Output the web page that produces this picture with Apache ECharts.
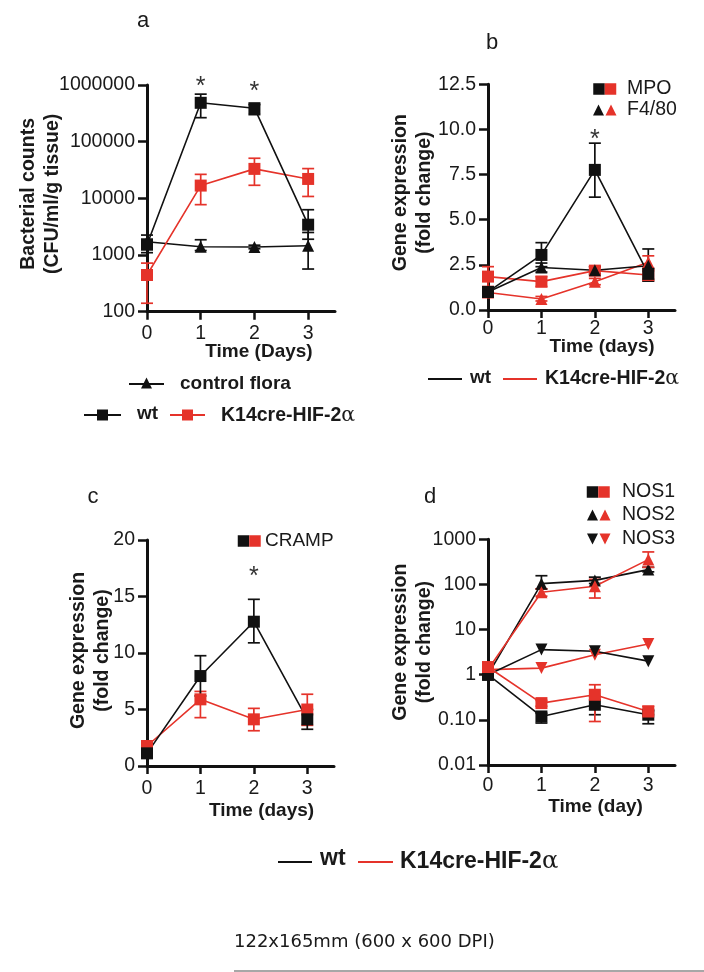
<!DOCTYPE html>
<html><head><meta charset="utf-8">
<script src="https://cdn.jsdelivr.net/npm/echarts@6/dist/echarts.min.js"></script>
<style>html,body{margin:0;padding:0;background:#fff}#c{width:704px;height:972px}</style>
</head><body><div id="c"></div>
<script>
// ---------- data ----------
const days = [0, 1, 2, 3];
const xTickLabels = ['0', '1', '2', '3'];

// panel a : bacterial counts
const aWt = [1520, 485000, 390000, 3430];
const aWtLo = [1100, 265000, 300000, 1900];
const aWtHi = [2250, 690000, 452000, 6300];
const aK14 = [444, 16800, 33100, 22000];
const aK14Lo = [141, 7740, 17000, 10800];
const aK14Hi = [720, 26500, 51000, 33500];
const aCtrl = [1720, 1400, 1385, 1460];
const aCtrlLo = [1550, 1200, 1290, 566];
const aCtrlHi = [1900, 1860, 1490, 2500];
const aStarX = [1, 2];
const aStarY = [1107000, 915000];
const aTicks = [100, 1000, 10000, 100000, 1000000];
const aTickLabels = ['100', '1000', '10000', '100000', '1000000'];

// panel b : MPO / F4/80
const bMpoWt = [1.0, 3.05, 7.76, 2.0];
const bMpoWtLo = [0.8, 2.4, 6.25, 1.7];
const bMpoWtHi = [1.2, 3.73, 9.24, 2.3];
const bMpoK14 = [1.85, 1.57, 2.18, 1.94];
const bMpoK14Lo = [1.3, 1.3, 1.95, 1.6];
const bMpoK14Hi = [2.4, 1.85, 2.4, 2.2];
const bF4Wt = [1.0, 2.35, 2.2, 2.45];
const bF4WtLo = [0.9, 2.1, 2.0, 1.6];
const bF4WtHi = [1.1, 2.6, 2.4, 3.38];
const bF4K14 = [0.97, 0.61, 1.57, 2.64];
const bF4K14Lo = [0.9, 0.5, 1.4, 2.3];
const bF4K14Hi = [1.05, 0.75, 1.75, 3.0];
const bStarX = [2];
const bStarY = [9.7];
const bTicks = [0, 2.5, 5, 7.5, 10, 12.5];
const bTickLabels = ['0.0', '2.5', '5.0', '7.5', '10.0', '12.5'];

// panel c : CRAMP
const cWt = [1.12, 7.96, 12.77, 4.13];
const cWtLo = [0.8, 6.2, 10.9, 3.25];
const cWtHi = [1.4, 9.76, 14.75, 5.0];
const cK14 = [1.77, 5.9, 4.13, 5.0];
const cK14Lo = [1.4, 4.28, 3.12, 3.6];
const cK14Hi = [2.1, 6.6, 5.1, 6.35];
const cStarX = [2];
const cStarY = [17.2];
const cTicks = [0, 5, 10, 15, 20];
const cTickLabels = ['0', '5', '10', '15', '20'];

// panel d : NOS1 / NOS2 / NOS3
const dNos1Wt = [1.0, 0.119, 0.216, 0.13];
const dNos1WtLo = [0.8, 0.085, 0.13, 0.082];
const dNos1WtHi = [1.2, 0.14, 0.33, 0.16];
const dNos1K14 = [1.48, 0.235, 0.36, 0.153];
const dNos1K14Lo = [1.2, 0.2, 0.092, 0.13];
const dNos1K14Hi = [1.7, 0.27, 0.6, 0.2];
const dNos2Wt = [1.0, 104, 123, 213];
const dNos2WtLo = [0.9, 80, 105, 190];
const dNos2WtHi = [1.1, 156, 145, 240];
const dNos2K14 = [1.3, 67, 91, 355];
const dNos2K14Lo = [1.1, 55, 50, 240];
const dNos2K14Hi = [1.5, 80, 130, 525];
const dNos3Wt = [1.0, 3.6, 3.3, 2.0];
const dNos3K14 = [1.3, 1.4, 2.77, 4.8];
const dTicks = [0.01, 0.1, 1, 10, 100, 1000];
const dTickLabels = ['0.01', '0.10', '1', '10', '100', '1000'];

// ---------- styling ----------
const BLACK = '#111111';
const RED = '#e5332a';
const TXT = '#1a1a1a';
const SANS = 'Liberation Sans';

function labelFor(ticks, labels, log) {
  return function (v) {
    for (let i = 0; i < ticks.length; i++) {
      const d = log ? Math.abs(Math.log10(ticks[i]) - Math.log10(v)) : Math.abs(ticks[i] - v);
      if (d < 1e-6) return labels[i];
    }
    return '';
  };
}

function xAx(gi, name, nameGap, padLeft, margin) {
  return {
    type: 'value', gridIndex: gi, min: 0, max: 3.5,
    name: name, nameLocation: 'middle', nameGap: nameGap, nameMoveOverlap: false,
    nameTextStyle: { fontFamily: SANS, fontWeight: 'bold', fontSize: 19, color: TXT, padding: [0, 0, 0, padLeft] },
    axisLine: { show: true, onZero: false, lineStyle: { color: BLACK, width: 3 } },
    axisTick: { show: true, length: 8, customValues: days, lineStyle: { color: BLACK, width: 2.5 } },
    axisLabel: { show: true, customValues: days, margin: margin, fontFamily: SANS, fontSize: 19.5, color: TXT,
      formatter: labelFor(days, xTickLabels, false) },
    splitLine: { show: false }
  };
}

function yAx(gi, opts) {
  const ax = {
    gridIndex: gi,
    name: opts.name, nameLocation: 'middle', nameGap: opts.nameGap, nameRotate: 90, nameMoveOverlap: false,
    nameTextStyle: { fontFamily: SANS, fontWeight: 'bold', fontSize: 19.5, lineHeight: 24.5, color: TXT,
      padding: [0, 0, 0, opts.shift] },
    axisLine: { show: true, onZero: false, lineStyle: { color: BLACK, width: 3 } },
    axisTick: { show: true, length: 9, lineStyle: { color: BLACK, width: 2.5 } },
    axisLabel: { show: true, margin: 12, fontFamily: SANS, fontSize: 19.5, color: TXT,
      formatter: labelFor(opts.ticks, opts.labels, opts.log) },
    splitLine: { show: false },
    min: opts.min, max: opts.max
  };
  if (opts.log) { ax.type = 'log'; ax.logBase = 10; }
  else { ax.type = 'value'; ax.interval = opts.interval; }
  return ax;
}

function lineS(name, gi, vals, color, symbol, rot) {
  return {
    type: 'line', name: name, xAxisIndex: gi, yAxisIndex: gi,
    data: days.map((d, i) => [d, vals[i]]),
    symbol: symbol, symbolSize: 12, symbolRotate: rot || 0, showSymbol: true,
    lineStyle: { color: color, width: 1.6 },
    itemStyle: { color: color, borderWidth: 0 },
    z: 3, animation: false, silent: true
  };
}

function errS(gi, lo, hi, color) {
  return {
    type: 'custom', xAxisIndex: gi, yAxisIndex: gi,
    data: days.map((d, i) => [d, lo[i], hi[i]]),
    encode: { x: 0, y: [1, 2] },
    z: 2, silent: true, animation: false, clip: false,
    renderItem: function (params, api) {
      const pH = api.coord([api.value(0), api.value(2)]);
      const pL = api.coord([api.value(0), api.value(1)]);
      const w = 6;
      const st = { stroke: color, lineWidth: 1.7, fill: null };
      return { type: 'group', children: [
        { type: 'line', shape: { x1: pH[0], y1: pH[1], x2: pL[0], y2: pL[1] }, style: st },
        { type: 'line', shape: { x1: pH[0] - w, y1: pH[1], x2: pH[0] + w, y2: pH[1] }, style: st },
        { type: 'line', shape: { x1: pL[0] - w, y1: pL[1], x2: pL[0] + w, y2: pL[1] }, style: st }
      ] };
    }
  };
}

function starS(gi, xs, ys) {
  return {
    type: 'custom', xAxisIndex: gi, yAxisIndex: gi,
    data: xs.map((x, i) => [x, ys[i]]),
    z: 5, silent: true, animation: false, clip: false,
    renderItem: function (params, api) {
      const p = api.coord([api.value(0), api.value(1)]);
      return { type: 'text', x: p[0], y: p[1] + 5,
        style: { text: '*', fontFamily: SANS, fontSize: 25, fill: '#333', align: 'center', verticalAlign: 'middle' } };
    }
  };
}

// ---------- legends / labels (graphic) ----------
const G = [];
function gText(x, y, str, size, bold, align, family) {
  G.push({ type: 'text', x: x, y: y, silent: true,
    style: { text: str, fontFamily: family || SANS, fontSize: size, fontWeight: bold ? 'bold' : 'normal',
      fill: TXT, align: align || 'left', verticalAlign: 'middle' } });
}
function gGeno(x, y, size) {
  // "K14cre-HIF-2" in bold followed by a regular-weight alpha
  G.push({ type: 'text', x: x, y: y, silent: true,
    style: { text: '{b|K14cre-HIF-2}{g|α}', align: 'left', verticalAlign: 'middle',
      rich: {
        b: { fontFamily: SANS, fontSize: size, fontWeight: 'bold', fill: TXT },
        g: { fontFamily: 'DejaVu Serif', fontSize: size * 1.05, fontWeight: 'normal', fill: TXT }
      } } });
}
function gLine(x1, x2, y, color, w) {
  G.push({ type: 'line', silent: true, shape: { x1: x1, y1: y, x2: x2, y2: y }, style: { stroke: color, lineWidth: w || 1.8 } });
}
function gSq(cx, cy, s, color) {
  G.push({ type: 'rect', silent: true, shape: { x: cx - s / 2, y: cy - s / 2, width: s, height: s }, style: { fill: color } });
}
function gTri(cx, cy, s, color, down) {
  const h = s / 2;
  const pts = down ? [[cx - h, cy - h], [cx + h, cy - h], [cx, cy + h]] : [[cx, cy - h], [cx - h, cy + h], [cx + h, cy + h]];
  G.push({ type: 'polygon', silent: true, shape: { points: pts }, style: { fill: color } });
}

// panel letters
gText(143, 21, 'a', 22, false, 'center');
gText(492, 43, 'b', 22, false, 'center');
gText(93, 497, 'c', 22, false, 'center');
gText(430, 497, 'd', 22, false, 'center');

// panel a legend
gLine(129, 164, 384, BLACK); gTri(146.5, 383, 11, BLACK); gText(180, 384, 'control flora', 19, true);
gLine(84, 121, 415, BLACK); gSq(102.5, 415, 11, BLACK); gText(137, 414, 'wt', 19, true);
gLine(170, 205, 415, RED); gSq(187.5, 415, 11, RED); gGeno(221, 416, 19.5);

// panel b legends
gSq(599, 89, 11.5, BLACK); gSq(610.5, 89, 11.5, RED); gText(627, 89, 'MPO', 19.5, false);
gTri(598.5, 110, 11, BLACK); gTri(611, 110, 11, RED); gText(627, 110, 'F4/80', 19.5, false);
gLine(428, 462, 379, BLACK); gText(470, 378, 'wt', 19, true);
gLine(503, 537, 379, RED); gGeno(545, 379, 19.5);

// panel c legend
gSq(243.5, 541, 11.5, BLACK); gSq(255, 541, 11.5, RED); gText(265, 541, 'CRAMP', 19, false);

// panel d legend
gSq(592.5, 492, 11.5, BLACK); gSq(604, 492, 11.5, RED); gText(622, 492, 'NOS1', 19.5, false);
gTri(592.5, 515, 11, BLACK); gTri(605, 515, 11, RED); gText(622, 515, 'NOS2', 19.5, false);
gTri(592.5, 539, 11, BLACK, true); gTri(605, 539, 11, RED, true); gText(622, 539, 'NOS3', 19.5, false);

// bottom legend
gLine(278, 312, 862, BLACK, 2.2); gText(320, 859, 'wt', 23, true);
gLine(358, 393, 862, RED, 2.2); gGeno(400, 862, 23);

// caption
gText(234, 942, '122x165mm (600 x 600 DPI)', 18, false, 'left', 'DejaVu Sans');
G.push({ type: 'line', silent: true, shape: { x1: 234, y1: 971, x2: 704, y2: 971 }, style: { stroke: '#8a8a8a', lineWidth: 1.5 } });

// ---------- chart ----------
const chart = echarts.init(document.getElementById('c'), null, { renderer: 'canvas' });
chart.setOption({
  backgroundColor: '#ffffff',
  animation: false,
  grid: [
    { left: 147, top: 85, width: 188, height: 226.7, outerBoundsMode: 'none' },
    { left: 488, top: 84.3, width: 187, height: 225.7, outerBoundsMode: 'none' },
    { left: 147, top: 540, width: 187, height: 226, outerBoundsMode: 'none' },
    { left: 488, top: 539.3, width: 187, height: 225.7, outerBoundsMode: 'none' }
  ],
  xAxis: [
    xAx(0, 'Time (Days)', 31, 36, 12),
    xAx(1, 'Time (days)', 27, 41, 9),
    xAx(2, 'Time (days)', 35, 42, 13),
    xAx(3, 'Time (day)', 32, 28, 11)
  ],
  yAxis: [
    yAx(0, { name: 'Bacterial counts\n(CFU/ml/g tissue)', nameGap: 82, shift: 9, log: true, min: 100, max: 1000000, ticks: aTicks, labels: aTickLabels }),
    yAx(1, { name: 'Gene expression\n(fold change)', nameGap: 51, shift: 9, log: false, min: 0, max: 12.5, interval: 2.5, ticks: bTicks, labels: bTickLabels }),
    yAx(2, { name: 'Gene expression\n(fold change)', nameGap: 32, shift: 5, log: false, min: 0, max: 20, interval: 5, ticks: cTicks, labels: cTickLabels }),
    yAx(3, { name: 'Gene expression\n(fold change)', nameGap: 51, shift: 20, log: true, min: 0.01, max: 1000, ticks: dTicks, labels: dTickLabels })
  ],
  series: [
    // a
    errS(0, aCtrlLo, aCtrlHi, BLACK),
    errS(0, aWtLo, aWtHi, BLACK),
    errS(0, aK14Lo, aK14Hi, RED),
    lineS('control flora', 0, aCtrl, BLACK, 'triangle'),
    lineS('K14cre-HIF-2α', 0, aK14, RED, 'rect'),
    lineS('wt', 0, aWt, BLACK, 'rect'),
    starS(0, aStarX, aStarY),
    // b
    errS(1, bMpoWtLo, bMpoWtHi, BLACK),
    errS(1, bMpoK14Lo, bMpoK14Hi, RED),
    errS(1, bF4WtLo, bF4WtHi, BLACK),
    errS(1, bF4K14Lo, bF4K14Hi, RED),
    lineS('F4/80 K14cre-HIF-2α', 1, bF4K14, RED, 'triangle'),
    lineS('MPO K14cre-HIF-2α', 1, bMpoK14, RED, 'rect'),
    lineS('F4/80 wt', 1, bF4Wt, BLACK, 'triangle'),
    lineS('MPO wt', 1, bMpoWt, BLACK, 'rect'),
    starS(1, bStarX, bStarY),
    // c
    errS(2, cK14Lo, cK14Hi, RED),
    errS(2, cWtLo, cWtHi, BLACK),
    lineS('CRAMP K14cre-HIF-2α', 2, cK14, RED, 'rect'),
    lineS('CRAMP wt', 2, cWt, BLACK, 'rect'),
    starS(2, cStarX, cStarY),
    // d
    errS(3, dNos1WtLo, dNos1WtHi, BLACK),
    errS(3, dNos1K14Lo, dNos1K14Hi, RED),
    errS(3, dNos2WtLo, dNos2WtHi, BLACK),
    errS(3, dNos2K14Lo, dNos2K14Hi, RED),
    lineS('NOS3 K14cre-HIF-2α', 3, dNos3K14, RED, 'triangle', 180),
    lineS('NOS3 wt', 3, dNos3Wt, BLACK, 'triangle', 180),
    lineS('NOS2 wt', 3, dNos2Wt, BLACK, 'triangle'),
    lineS('NOS2 K14cre-HIF-2α', 3, dNos2K14, RED, 'triangle'),
    lineS('NOS1 wt', 3, dNos1Wt, BLACK, 'rect'),
    lineS('NOS1 K14cre-HIF-2α', 3, dNos1K14, RED, 'rect')
  ],
  graphic: G
});
</script></body></html>
